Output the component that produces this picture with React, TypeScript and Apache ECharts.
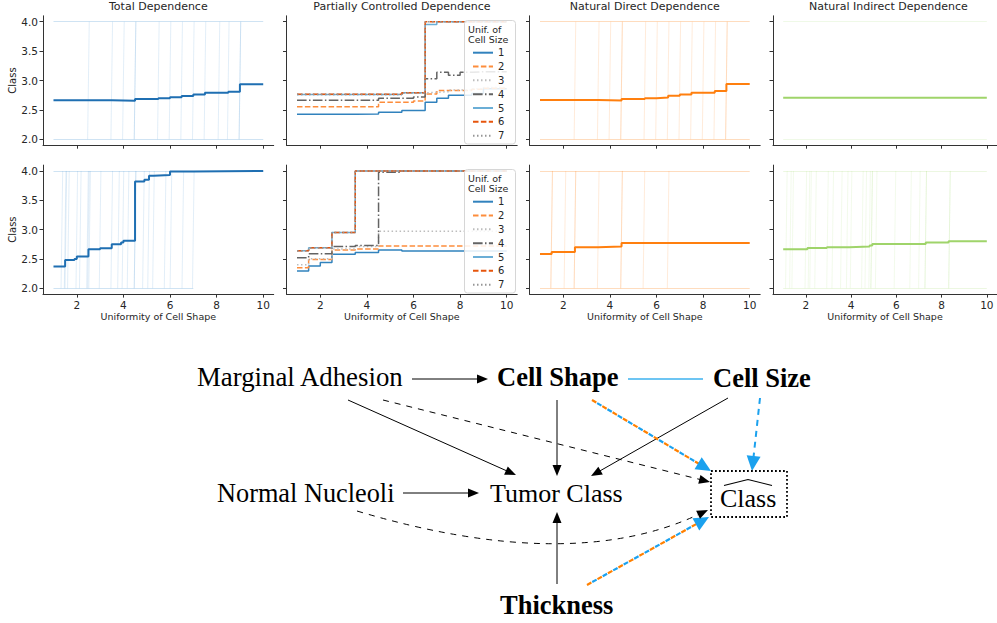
import React, { useEffect, useRef } from "react";
import * as echarts from "echarts";

// ---------------- texts / ticks ----------------
const panelTitles = ["Total Dependence", "Partially Controlled Dependence", "Natural Direct Dependence", "Natural Indirect Dependence"];
const xAxisTitle = "Uniformity of Cell Shape";
const yAxisTitle = "Class";
const xTickValues = [2, 4, 6, 8, 10];
const yTickValues = [2.0, 2.5, 3.0, 3.5, 4.0];
const legendTitleLines = ["Unif. of", "Cell Size"];
const cellSizeLevels = ["1", "2", "3", "4", "5", "6", "7"];

// ---------------- Total dependence ----------------
const tdTopMeanX = [1, 3.5, 4.5, 5.5, 6.0, 6.5, 7.0, 7.5, 8.5, 9.0, 10];
const tdTopMeanY = [2.665, 2.655, 2.685, 2.70, 2.715, 2.735, 2.76, 2.79, 2.81, 2.935, 2.935];
const tdTopIceSwitch = [2.5, 3.5, 4.0, 4.5, 4.5, 5.5, 6.0, 6.5, 7.0, 7.5, 8.1, 8.5, 9.0, 9.0];
const tdTopIceFrom = [4, 4, 2, 2, 2, 2, 4, 2, 2, 2, 4, 2, 2, 2];
const tdTopIceConst: number[] = [];

const tdBotMeanX = [1, 1.5, 1.9, 2.0, 2.5, 3.0, 3.5, 3.9, 4.0, 4.5, 4.9, 5.1, 5.3, 6.0, 7.0, 10];
const tdBotMeanY = [2.37, 2.48, 2.50, 2.54, 2.665, 2.68, 2.75, 2.78, 2.81, 3.82, 3.85, 3.92, 3.93, 3.99, 4.0, 4.0];
const tdBotIceSwitch = [1.36, 1.5, 1.53, 1.64, 2.0, 2.15, 2.46, 2.5, 2.55, 3.0, 3.5, 3.79, 3.98, 4.2, 4.5, 4.5, 4.86, 5.08, 5.29, 5.79, 6.04, 6.55, 7.0];
const tdBotIceFrom = [2, 2, 2, 2, 2, 2, 2, 2, 2, 2, 2, 2, 2, 2, 2, 2, 2, 2, 2, 2, 2, 2, 2];
const tdBotIceConst = [4];

// ---------------- Partially controlled dependence ----------------
const pcdTopX = [1, 3.5, 4.5, 5.5, 6.0, 6.5, 7.0, 7.5, 8.0, 8.5, 9.0, 10];
const pcdTop1 = [2.425, 2.43, 2.46, 2.49, 2.49, 2.63, 2.70, 2.75, 2.75, 2.78, 2.86, 2.86];
const pcdTop2 = [2.555, 2.555, 2.63, 2.63, 2.65, 2.77, 2.83, 2.83, 2.83, 2.85, 2.87, 2.87];
const pcdTop3 = [2.76, 2.76, 2.76, 2.79, 2.79, 2.80, 2.81, 2.84, 2.84, 2.86, 2.88, 2.88];
const pcdTop4 = [2.665, 2.665, 2.70, 2.70, 2.72, 3.03, 3.14, 3.09, 3.14, 3.15, 3.15, 3.15];
const pcdTop5 = [2.76, 2.76, 2.76, 2.79, 2.79, 3.95, 4.0, 4.0, 4.0, 4.0, 4.0, 4.0];
const pcdTop6 = [2.765, 2.765, 2.765, 2.79, 2.79, 4.0, 4.0, 4.0, 4.0, 4.0, 4.0, 4.0];
const pcdTop7 = [2.76, 2.76, 2.76, 2.79, 2.79, 4.0, 4.0, 4.0, 4.0, 4.0, 4.0, 4.0];

const pcdBotX = [1, 1.5, 2.0, 2.5, 3.5, 4.5, 5.5, 10];
const pcdBot1 = [2.295, 2.38, 2.44, 2.58, 2.61, 2.65, 2.635, 2.635];
const pcdBot2 = [2.35, 2.49, 2.49, 2.65, 2.67, 2.72, 2.72, 2.72];
const pcdBot3 = [2.40, 2.505, 2.505, 2.67, 2.71, 2.97, 2.97, 2.97];
const pcdBot4 = [2.52, 2.59, 2.59, 2.71, 2.73, 3.98, 4.0, 4.0];
const pcdBot5 = [2.64, 2.69, 2.69, 2.95, 4.0, 4.0, 4.0, 4.0];
const pcdBot6 = [2.64, 2.69, 2.69, 2.95, 4.0, 4.0, 4.0, 4.0];
const pcdBot7 = [2.64, 2.69, 2.69, 2.95, 4.0, 4.0, 4.0, 4.0];

// ---------------- Natural direct dependence ----------------
const ndeTopMeanX = [1, 3.5, 4.5, 5.5, 6.0, 6.5, 7.0, 7.5, 8.5, 9.0, 10];
const ndeTopMeanY = [2.67, 2.66, 2.685, 2.70, 2.71, 2.74, 2.76, 2.79, 2.82, 2.94, 2.94];
const ndeTopIceSwitch = [2.5, 3.5, 4.0, 4.5, 4.5, 5.5, 6.0, 6.5, 7.0, 7.5, 8.0, 8.5, 9.0, 9.0];
const ndeTopIceFrom = [4, 4, 2, 2, 2, 2, 4, 2, 2, 2, 4, 2, 2, 2];
const ndeTopIceConst: number[] = [];

const ndeBotMeanX = [1, 1.5, 2.5, 3.5, 4.5, 10];
const ndeBotMeanY = [2.585, 2.62, 2.70, 2.71, 2.77, 2.77];
const ndeBotIceSwitch = [1.5, 1.5, 2.07, 2.5, 2.5, 3.5, 4.5, 4.5, 5.46, 6.5];
const ndeBotIceFrom = [2, 2, 4, 2, 2, 2, 2, 2, 4, 4];
const ndeBotIceConst: number[] = [];

// ---------------- Natural indirect dependence ----------------
const nieTopMeanX = [1, 10];
const nieTopMeanY = [2.705, 2.705];
const nieTopIceSwitch: number[] = [];
const nieTopIceFrom: number[] = [];
const nieTopIceConst = [2, 4];

const nieBotMeanX = [1, 2.07, 2.93, 3.93, 4.82, 4.94, 7.3, 8.31, 10];
const nieBotMeanY = [2.665, 2.685, 2.70, 2.71, 2.73, 2.755, 2.78, 2.80, 2.80];
const nieBotIceSwitch = [1.14, 1.32, 1.42, 2.0, 2.14, 2.21, 2.43, 2.96, 3.19, 3.57, 3.83, 4.0, 4.5, 4.65, 4.82, 4.91, 4.91, 5.11, 5.94, 6.63, 7.02, 7.3, 7.3, 8.35, 8.35];
const nieBotIceFrom = [2, 4, 2, 4, 2, 2, 4, 2, 4, 2, 4, 2, 4, 2, 2, 2, 2, 4, 2, 4, 2, 2, 2, 2, 2];
const nieBotIceConst: number[] = [];

// ---------------- diagram ----------------
const diagramLabels = ["Marginal Adhesion", "Cell Shape", "Cell Size", "Normal Nucleoli", "Tumor Class", "Class", "Thickness"];
const diagramBold = [false, true, true, false, false, false, true];

// ---------------- styles ----------------
const FONT = "DejaVu Sans";
const SERIF = "Liberation Serif";
const axisColor = "#333333";
const textColor = "#262626";
const blueMean = "#1f6fb2";
const orangeMean = "#ff7f0e";
const greenMean = "#9fd46a";
const blueIce = "#5fa3d6";
const orangeIce = "#fd9a45";
const greenIce = "#a9db78";
const levelColors = ["#3182bd", "#fd8d3c", "#bdbdbd", "#636363", "#6baed6", "#e6550d", "#969696"];
const levelDash: any[] = ["solid", [5.5, 2.4], [1.5, 2.5], [9.6, 2.4, 1.5, 2.4], "solid", [5.5, 2.4], [1.5, 2.5]];
const diagBlue = "#1ba1ee";
const diagOrange = "#ff8000";

const colLefts = [43, 286.5, 529.5, 773];
const rowTops = [15.8, 165.1];
const rowHeights = [129.4, 129.0];
const gridWidth = 230.7;

function pairs(xs: number[], ys: number[]) {
  return xs.map((x, i) => [x, ys[i]]);
}

function meanSeries(idx: number, xs: number[], ys: number[], color: string) {
  return {
    type: "line", xAxisIndex: idx, yAxisIndex: idx, data: pairs(xs, ys), step: "end",
    symbol: "none", silent: true, z: 3, lineStyle: { color, width: 2 },
  };
}

function iceSeries(idx: number, switches: number[], froms: number[], consts: number[], color: string, vAlpha: number, hAlpha: number) {
  const verticals = switches.map((s, i) => {
    const to = 6 - froms[i];
    const dir = to > froms[i] ? 1 : -1;
    return { coords: [[s - 0.035 * dir, froms[i]], [s + 0.035 * dir, to]] };
  });
  const levels: any[] = [];
  [2, 4].forEach((L) => {
    let lo = Infinity, hi = -Infinity;
    switches.forEach((s, i) => {
      if (froms[i] === L) { lo = Math.min(lo, 1); hi = Math.max(hi, s); }
      if (6 - froms[i] === L) { lo = Math.min(lo, s); hi = Math.max(hi, 10); }
    });
    consts.forEach((c) => { if (c === L) { lo = 1; hi = 10; } });
    if (lo < hi) levels.push({ coords: [[lo, L], [hi, L]] });
  });
  const base = { type: "lines", coordinateSystem: "cartesian2d", xAxisIndex: idx, yAxisIndex: idx, silent: true, z: 1 };
  return [
    { ...base, data: levels, lineStyle: { color, width: 1.2, opacity: hAlpha } },
    { ...base, data: verticals, lineStyle: { color, width: 1, opacity: vAlpha } },
  ];
}

function levelSeries(idx: number, xs: number[], rows: number[][]) {
  return rows.map((ys, k) => ({
    type: "line", name: cellSizeLevels[k], xAxisIndex: idx, yAxisIndex: idx, data: pairs(xs, ys), step: "end",
    symbol: "none", silent: true, z: 3, color: levelColors[k],
    lineStyle: { color: levelColors[k], width: 1.5, type: levelDash[k] },
  }));
}

function arrowHead(x1: number, y1: number, x2: number, y2: number, len: number, half: number, color: string) {
  const d = Math.hypot(x2 - x1, y2 - y1);
  const ux = (x2 - x1) / d, uy = (y2 - y1) / d;
  const bx = x2 - ux * len, by = y2 - uy * len;
  return {
    type: "polygon",
    shape: { points: [[x2, y2], [bx - uy * half, by + ux * half], [bx + uy * half, by - ux * half]] },
    style: { fill: color },
  };
}

function arrow(x1: number, y1: number, x2: number, y2: number, opts: any = {}) {
  const len = opts.len ?? 11, half = opts.half ?? 4.5, color = opts.head ?? "#000";
  const d = Math.hypot(x2 - x1, y2 - y1);
  const ex = x2 - ((x2 - x1) / d) * len * 0.8, ey = y2 - ((y2 - y1) / d) * len * 0.8;
  const els: any[] = [];
  if (opts.twoTone) {
    els.push({ type: "line", shape: { x1, y1, x2: ex, y2: ey }, style: { stroke: diagOrange, lineWidth: 2.2, lineDash: [5, 7] } });
    els.push({ type: "line", shape: { x1, y1, x2: ex, y2: ey }, style: { stroke: diagBlue, lineWidth: 2.2, lineDash: [5, 7], lineDashOffset: 6 } });
  } else {
    els.push({ type: "line", shape: { x1, y1, x2: ex, y2: ey }, style: { stroke: opts.stroke ?? "#000", lineWidth: opts.width ?? 1, lineDash: opts.dash ?? null } });
  }
  els.push(arrowHead(x1, y1, x2, y2, len, half, color));
  return els;
}

function buildDiagram() {
  const pos = [[197, 377], [497, 377], [713, 378], [217, 493], [490, 493], [720, 498], [500, 605]];
  const sizes = [26.8, 26.5, 26.5, 26.3, 26, 26, 26.5];
  const els: any[] = [];
  diagramLabels.forEach((t, i) => {
    els.push({
      type: "text", x: pos[i][0], y: pos[i][1],
      style: { text: t, fill: "#000", font: `${diagramBold[i] ? "bold " : ""}${sizes[i]}px "${SERIF}"`, align: "left", verticalAlign: "middle" },
    });
  });
  els.push(...arrow(412, 379, 488, 379));
  els.push(...arrow(348, 400, 516, 475));
  els.push(...arrow(383, 400, 710, 482, { dash: [6, 6] }));
  els.push(...arrow(557, 400, 557, 476));
  els.push(...arrow(728, 398, 591, 476));
  els.push(...arrow(403, 493, 479, 493));
  els.push(...arrow(557, 584, 557, 512));
  els.push(...arrow(592, 400, 711, 471, { twoTone: true, head: diagBlue, len: 15, half: 7 }));
  els.push(...arrow(587, 585, 709, 517, { twoTone: true, head: diagBlue, len: 15, half: 7 }));
  els.push(...arrow(760, 398, 752, 471, { stroke: diagBlue, width: 2, dash: [6, 5], head: diagBlue, len: 15, half: 7 }));
  els.push({ type: "line", shape: { x1: 628, y1: 379, x2: 703, y2: 379 }, style: { stroke: "#3cb2ef", lineWidth: 1.3 } });
  // curved dashed edge Normal Nucleoli -> Class hat
  const p0 = [357, 511], c = [571, 575], p2 = [708, 510];
  const d = Math.hypot(p2[0] - c[0], p2[1] - c[1]);
  const ex = p2[0] - ((p2[0] - c[0]) / d) * 9, ey = p2[1] - ((p2[1] - c[1]) / d) * 9;
  els.push({ type: "bezierCurve", shape: { x1: p0[0], y1: p0[1], cpx1: c[0], cpy1: c[1], x2: ex, y2: ey }, style: { stroke: "#000", lineWidth: 1, lineDash: [6, 6], fill: null } });
  els.push(arrowHead(c[0], c[1], p2[0], p2[1], 11, 4.5, "#000"));
  // dotted box & hat
  els.push({ type: "rect", shape: { x: 711, y: 471, width: 76, height: 46 }, style: { stroke: "#000", lineWidth: 1.8, lineDash: [1.8, 2.2], fill: null } });
  els.push({ type: "polyline", shape: { points: [[724, 485.5], [748, 479.5], [772, 485.5]] }, style: { stroke: "#000", lineWidth: 1.2, fill: null } });
  return els;
}

function legendDecor(top: number) {
  return [
    { type: "rect", z: 10, shape: { x: 464.5, y: top, width: 51, height: 123.5, r: 3 }, style: { fill: "rgba(255,255,255,0.85)", stroke: "#d6d6d6", lineWidth: 1 } },
    ...legendTitleLines.map((t, i) => ({
      type: "text", z: 20, x: 468, y: top + 8.5 + i * 10.3,
      style: { text: t, fill: textColor, font: `9.5px "${FONT}"`, align: "left", verticalAlign: "middle" },
    })),
  ];
}

export default function App() {
  const ref = useRef<HTMLDivElement>(null);
  useEffect(() => {
    if (!ref.current) return;
    const chart = echarts.init(ref.current, undefined, { renderer: "svg" });
    const grids: any[] = [], xAxes: any[] = [], yAxes: any[] = [];
    for (let r = 0; r < 2; r++) {
      for (let c = 0; c < 4; c++) {
        const i = r * 4 + c;
        grids.push({ left: colLefts[c], top: rowTops[r], width: gridWidth, height: rowHeights[r] });
        xAxes.push({
          type: "value", gridIndex: i, min: 0.55, max: 10.45, splitLine: { show: false },
          axisLine: { show: true, onZero: false, lineStyle: { color: axisColor, width: 1 } },
          axisTick: { show: true, customValues: xTickValues, length: 3.5, lineStyle: { color: axisColor } },
          axisLabel: { show: r === 1, customValues: xTickValues, fontSize: 10.5, color: textColor, fontFamily: FONT, margin: 5 },
          name: r === 1 ? xAxisTitle : "", nameLocation: "middle", nameGap: 16,
          nameTextStyle: { fontSize: 9.5, color: textColor, fontFamily: FONT },
        });
        yAxes.push({
          type: "value", gridIndex: i, min: 1.9, max: 4.1, splitLine: { show: false },
          axisLine: { show: true, onZero: false, lineStyle: { color: axisColor, width: 1 } },
          axisTick: { show: true, customValues: yTickValues, length: 3.5, lineStyle: { color: axisColor } },
          axisLabel: { show: c === 0, customValues: yTickValues, fontSize: 10.5, color: textColor, fontFamily: FONT, margin: 5, formatter: (v: number) => v.toFixed(1) },
          name: c === 0 ? yAxisTitle : "", nameLocation: "middle", nameGap: 24, nameRotate: 90,
          nameTextStyle: { fontSize: 10, color: textColor, fontFamily: FONT },
        });
      }
    }
    const series: any[] = [
      ...iceSeries(0, tdTopIceSwitch, tdTopIceFrom, tdTopIceConst, blueIce, 0.18, 0.3),
      meanSeries(0, tdTopMeanX, tdTopMeanY, blueMean),
      ...levelSeries(1, pcdTopX, [pcdTop1, pcdTop2, pcdTop3, pcdTop4, pcdTop5, pcdTop6, pcdTop7]),
      ...iceSeries(2, ndeTopIceSwitch, ndeTopIceFrom, ndeTopIceConst, orangeIce, 0.2, 0.35),
      meanSeries(2, ndeTopMeanX, ndeTopMeanY, orangeMean),
      ...iceSeries(3, nieTopIceSwitch, nieTopIceFrom, nieTopIceConst, greenIce, 0.15, 0.18),
      meanSeries(3, nieTopMeanX, nieTopMeanY, greenMean),
      ...iceSeries(4, tdBotIceSwitch, tdBotIceFrom, tdBotIceConst, blueIce, 0.18, 0.3),
      meanSeries(4, tdBotMeanX, tdBotMeanY, blueMean),
      ...levelSeries(5, pcdBotX, [pcdBot1, pcdBot2, pcdBot3, pcdBot4, pcdBot5, pcdBot6, pcdBot7]),
      ...iceSeries(6, ndeBotIceSwitch, ndeBotIceFrom, ndeBotIceConst, orangeIce, 0.2, 0.35),
      meanSeries(6, ndeBotMeanX, ndeBotMeanY, orangeMean),
      ...iceSeries(7, nieBotIceSwitch, nieBotIceFrom, nieBotIceConst, greenIce, 0.15, 0.22),
      meanSeries(7, nieBotMeanX, nieBotMeanY, greenMean),
    ];
    const legendBase = {
      orient: "vertical", left: 472, itemWidth: 20, itemHeight: 10, itemGap: 3.83, padding: 0,
      data: cellSizeLevels, selectedMode: false, z: 20,
      itemStyle: { opacity: 0 },
      textStyle: { fontSize: 10, color: textColor, fontFamily: FONT, lineHeight: 10 },
    };
    chart.setOption({
      animation: false,
      backgroundColor: "#ffffff",
      title: panelTitles.map((t, c) => ({
        text: t, left: colLefts[c] + gridWidth / 2, top: 1, textAlign: "center", padding: 0,
        textStyle: { fontSize: 11, fontWeight: "normal", color: textColor, fontFamily: FONT },
      })),
      grid: grids,
      xAxis: xAxes,
      yAxis: yAxes,
      legend: [
        { ...legendBase, top: 47.7 },
        { ...legendBase, top: 196.7 },
      ],
      series,
      graphic: { elements: [...legendDecor(20.5), ...legendDecor(169.5), ...buildDiagram()] },
    });
    return () => chart.dispose();
  }, []);
  return <div ref={ref} style={{ position: "absolute", left: 0, top: 0, width: 997, height: 623 }} />;
}
